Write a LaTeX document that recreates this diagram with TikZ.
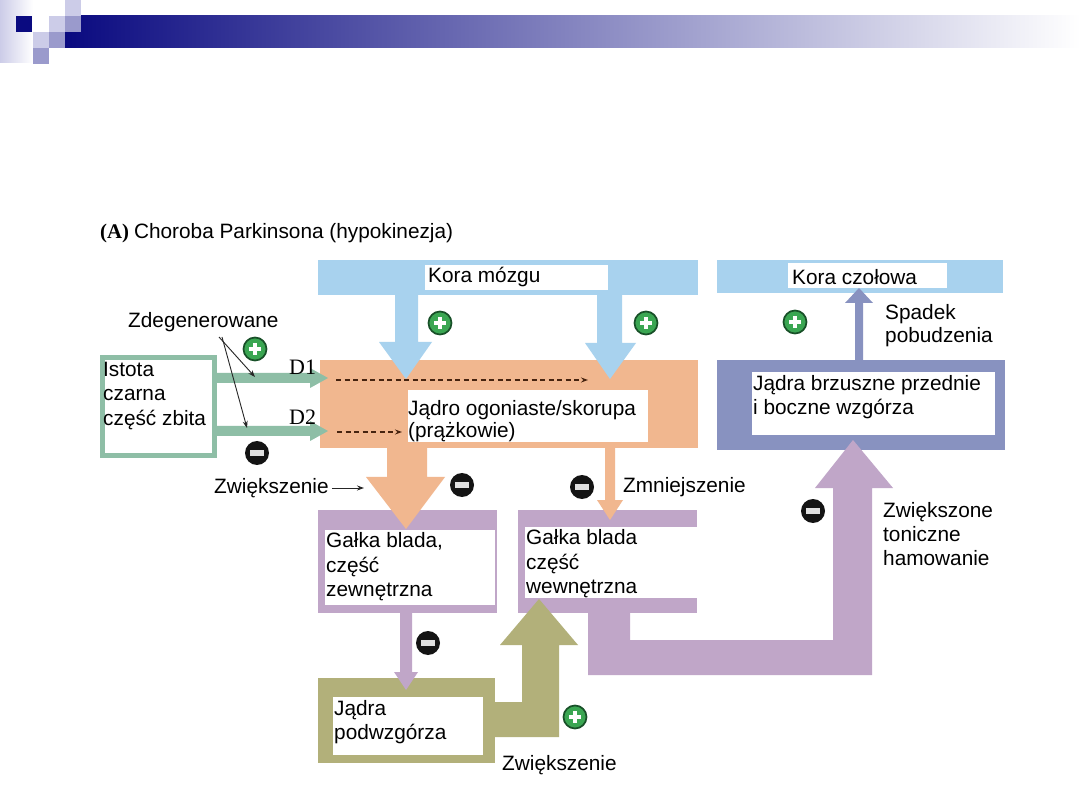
\documentclass[tikz,border=0pt]{standalone}
\usepackage{fontspec}
\setmainfont{Liberation Sans}
\newfontfamily\seriffont{Liberation Serif}
\usetikzlibrary{arrows.meta}
\definecolor{navyc}{RGB}{10,10,128}
\definecolor{lavl}{RGB}{204,204,232}
\definecolor{lavm}{RGB}{154,154,204}
\definecolor{bluec}{RGB}{168,210,238}
\definecolor{orangec}{RGB}{241,183,143}
\definecolor{sagec}{RGB}{142,190,166}
\definecolor{purplec}{RGB}{192,166,200}
\definecolor{olivec}{RGB}{178,176,122}
\definecolor{slatec}{RGB}{136,146,192}
\definecolor{plusg}{RGB}{58,166,82}
\definecolor{plusd}{RGB}{24,80,40}
\definecolor{dashc}{RGB}{70,35,15}
\begin{document}
\begin{tikzpicture}[x=1pt,y=-1pt,
  txt/.style={font=\fontsize{20.8}{24.5}\selectfont, inner sep=0pt, align=left, anchor=west, text=black},
  sertxt/.style={font=\seriffont\fontsize{22}{24}\selectfont, inner sep=0pt, anchor=west, text=black},
  plusic/.style={circle, minimum size=23pt, inner sep=0pt, fill=plusg, draw=plusd, line width=1.7pt,
    path picture={
      \fill[white] (path picture bounding box.center) ++(-6pt,-2.2pt) rectangle ++(12pt,4.4pt);
      \fill[white] (path picture bounding box.center) ++(-2.2pt,-6pt) rectangle ++(4.4pt,12pt);}},
  minusic/.style={circle, minimum size=24pt, inner sep=0pt, fill=black!92,
    path picture={\fill[white!88!black] (path picture bounding box.center) ++(-7pt,-2.6pt) rectangle ++(14pt,5.2pt);}},
  thinarr/.style={-{Stealth[length=7pt,width=5pt]}, line width=0.9pt, black!85},
  dasharr/.style={-{Stealth[length=7pt,width=5pt]}, line width=1.2pt, dashc, dash pattern=on 5pt off 3.5pt},
  labelbox/.style={fill=white}
  ]
\useasboundingbox (0,0) rectangle (1080,810);
\fill[white] (0,0) rectangle (1080,810);

% header decoration
\shade[left color=lavl, right color=white] (0,0) rectangle (33,63);
\shade[left color=navyc, right color=white] (65,16) rectangle (1080,48);
\fill[navyc] (16,16) rectangle (32,32);
\fill[lavl] (65,0) rectangle (81,16);
\fill[lavl] (49,16) rectangle (65,32);
\fill[lavm] (65,16) rectangle (81,32);
\fill[lavl] (33,32) rectangle (49,48);
\fill[lavm] (49,32) rectangle (65,48);
\fill[lavm] (33,48) rectangle (49,64);

% title
\node[txt, anchor=base west] (title) at (100,239) {{\seriffont\bfseries (A)}\hspace{5pt}Choroba Parkinsona (hypokinezja)};

% right: thalamus box and frontal cortex
\fill[slatec] (717,360) rectangle (1005,450);
\fill[labelbox] (752,372) rectangle (995,435);
\fill[bluec] (717,260) rectangle (1003,293);
\fill[labelbox] (788,263) rectangle (947,288);
\fill[slatec] (855,360) -- (855,303) -- (845,303) -- (859,288) -- (873,303) -- (863,303) -- (863,360) -- cycle;

% striatum
\fill[orangec] (320,360) rectangle (698,448);
\fill[labelbox] (408,390) rectangle (648,442);

% cortex bar and arrows
\fill[bluec] (318,260) rectangle (698,295);
\fill[labelbox] (425,265) rectangle (608,290);
\fill[bluec] (395,295) -- (395,342) -- (379,342) -- (406,379) -- (432,342) -- (418,342) -- (418,295) -- cycle;
\fill[bluec] (597,295) -- (597,343) -- (585,343) -- (610,379) -- (636,343) -- (622,343) -- (622,295) -- cycle;

% substantia nigra
\fill[white] (100,355) rectangle (217,458);
\draw[sagec, line width=5pt] (102.5,357.5) rectangle (214.5,455.5);
\fill[sagec] (214,373) -- (310,373) -- (310,368) -- (328,378) -- (310,388) -- (310,383) -- (214,383) -- cycle;
\fill[sagec] (214,426) -- (310,426) -- (310,421) -- (328,431) -- (310,441) -- (310,436) -- (214,436) -- cycle;

% globus pallidus boxes
\fill[purplec] (318,510) rectangle (497,613);
\fill[labelbox] (325,530) rectangle (495,605);
\fill[purplec] (518,510) rectangle (697,613);
\fill[labelbox] (525,527) rectangle (697,598);

% orange arrows
\fill[orangec] (387,448) -- (387,477) -- (366,477) -- (406,529) -- (445,477) -- (427,477) -- (427,448) -- cycle;
\fill[orangec] (605,448) -- (605,500) -- (597,500) -- (610,520) -- (623,500) -- (615,500) -- (615,448) -- cycle;

% subthalamic nucleus
\fill[olivec] (318,678) rectangle (495,763);
\fill[olivec] (494,702) -- (522,702) -- (522,645) -- (500,645) -- (539,599) -- (578,645) -- (559,645) -- (559,737) -- (494,737) -- cycle;
\fill[labelbox] (333,697) rectangle (483,755);

% purple arrows
\fill[purplec] (400,613) -- (400,672) -- (394,672) -- (406,690) -- (418,672) -- (412,672) -- (412,613) -- cycle;
\fill[purplec] (588,612) -- (588,675) -- (872,675) -- (872,488) -- (893,488) -- (853,440) -- (815,488) -- (833,488) -- (833,640) -- (630,640) -- (630,612) -- cycle;

% dashed arrows in striatum
\coordinate (d1s) at (336,380);
\coordinate (d1e) at (588,380);
\coordinate (d2s) at (337,432);
\coordinate (d2e) at (402,432);
\draw[dasharr] (d1s) -- (d1e);
\draw[dasharr] (d2s) -- (d2e);

% texts
\node[txt] (korm) at (428,277) {Kora mózgu};
\node[txt] (korc) at (792,277) {Kora czołowa};
\node[txt, font=\fontsize{20.8}{22}\selectfont] (stri) at (408,421) {Jądro ogoniaste/skorupa\\(prążkowie)};
\node[txt] (snc) at (103,396) {Istota\\czarna\\część zbita};
\node[txt] (gpe) at (326,567) {Gałka blada,\\część\\zewnętrzna};
\node[txt] (gpi) at (526,564) {Gałka blada\\część\\wewnętrzna};
\node[txt] (stn) at (334,722) {Jądra\\podwzgórza};
\node[txt] (thal) at (753,397) {Jądra brzuszne przednie\\i boczne wzgórza};
\node[txt, font=\fontsize{20.8}{23}\selectfont] (spad) at (885,326) {Spadek\\pobudzenia};
\node[txt, font=\fontsize{20.8}{24}\selectfont] (zton) at (883,534) {Zwiększone\\toniczne\\hamowanie};
\node[txt] (zmn) at (623,487) {Zmniejszenie};
\node[txt] (zwb) at (502,765) {Zwiększenie};
\node[txt] (zwl) at (214,488) {Zwiększenie};
\node[txt] (zdeg) at (128,322) {Zdegenerowane};
\node[sertxt] (dj) at (289,367) {D1};
\node[sertxt] (dd) at (289,417) {D2};

% thin arrows
\coordinate (zwlend) at (364,488);
\draw[thinarr] ([xshift=3pt]zwl.east) -- (zwlend);
\coordinate (zdg) at (219,337);
\coordinate (zdga) at (222,337);
\coordinate (zd1) at (255,377);
\coordinate (zd2) at (247,428);
\draw[thinarr] (zdg) -- (zd1);
\draw[thinarr] (zdga) -- (zd2);

% plus / minus icons
\node[plusic] (p1) at (440,323) {};
\node[plusic] (p2) at (646,323) {};
\node[plusic] (p3) at (255,349) {};
\node[plusic] (p4) at (795,322) {};
\node[plusic] (p5) at (575,717) {};
\node[minusic] (m1) at (257,453) {};
\node[minusic] (m2) at (462,485) {};
\node[minusic] (m3) at (582,487) {};
\node[minusic] (m4) at (428,643) {};
\node[minusic] (m5) at (813,511) {};
\end{tikzpicture}
\end{document}
